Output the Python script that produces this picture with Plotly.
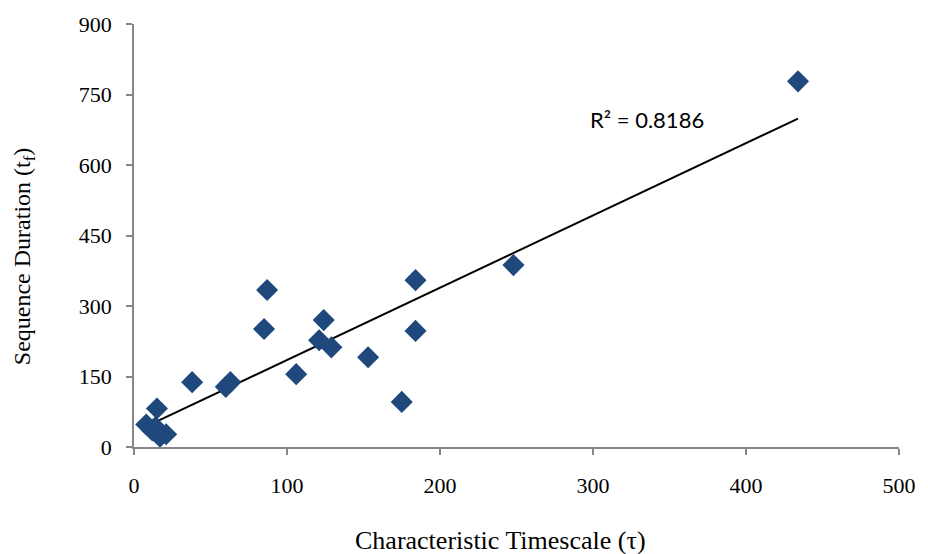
import numpy as np
import plotly.graph_objects as go

tau = [434, 248, 184, 184, 175, 153, 124, 121, 129, 87, 85, 106, 63, 60, 38, 15, 8, 12, 17, 21, 14]
tf = [778, 387, 355, 247, 96, 191, 270, 227, 212, 334, 251, 155, 138, 128, 138, 82, 48, 35, 22, 27, 42]
r2_label = "R² = 0.8186"
x_title = "Characteristic Timescale (τ)"
y_title = "Sequence Duration (t<sub>f</sub>)"
x_ticks = [0, 100, 200, 300, 400, 500]
y_ticks = [0, 150, 300, 450, 600, 750, 900]

xa = np.array(tau, dtype=float)
ya = np.array(tf, dtype=float)
slope, intercept = np.polyfit(xa, ya, 1)
trend_x = [xa.min(), xa.max()]
trend_y = [slope * v + intercept for v in trend_x]

W, H = 928, 554
ML, MR, MT, MB = 134, 20, 22, 107

fig = go.Figure()
fig.add_trace(go.Scatter(x=trend_x, y=trend_y, mode="lines",
                         line=dict(color="black", width=2), hoverinfo="skip"))
fig.add_trace(go.Scatter(x=tau, y=tf, mode="markers",
                         marker=dict(symbol="diamond", size=17, color="#1F497D",
                                     line=dict(width=0))))

fig.add_annotation(x=335, y=696, xref="x", yref="y", text=r2_label, showarrow=False,
                   font=dict(family="Lato, Open Sans, sans-serif", size=22, color="black"))

serif = "Liberation Serif, Times New Roman, serif"
pw = W - ML - MR
ph = H - MT - MB
fig.add_annotation(xref="paper", yref="paper", x=(505 - ML) / pw, y=-(541 - (H - MB)) / ph,
                   text=x_title, showarrow=False, xanchor="center", yanchor="middle",
                   font=dict(family=serif, size=26, color="black"))
fig.add_annotation(xref="paper", yref="paper", x=-(ML - 23) / pw, y=(H - MB - 255) / ph,
                   text=y_title, showarrow=False, textangle=-90, xanchor="center", yanchor="middle",
                   font=dict(family=serif, size=24, color="black"))

tick_font = dict(family=serif, size=22, color="black")
common = dict(showgrid=False, zeroline=False, showline=True, linecolor="#868686", linewidth=1.5,
              ticks="outside", ticklen=6, tickcolor="#868686", tickwidth=1.5,
              tickfont=tick_font)
fig.update_layout(
    width=W, height=H,
    margin=dict(l=ML, r=MR, t=MT, b=MB),
    paper_bgcolor="white", plot_bgcolor="white",
    showlegend=False,
    xaxis=dict(range=[0, 500], tickvals=x_ticks, ticklabelstandoff=12, **common),
    yaxis=dict(range=[0, 900], tickvals=y_ticks, ticklabelstandoff=10, **common),
)

fig.write_html("out.html")
